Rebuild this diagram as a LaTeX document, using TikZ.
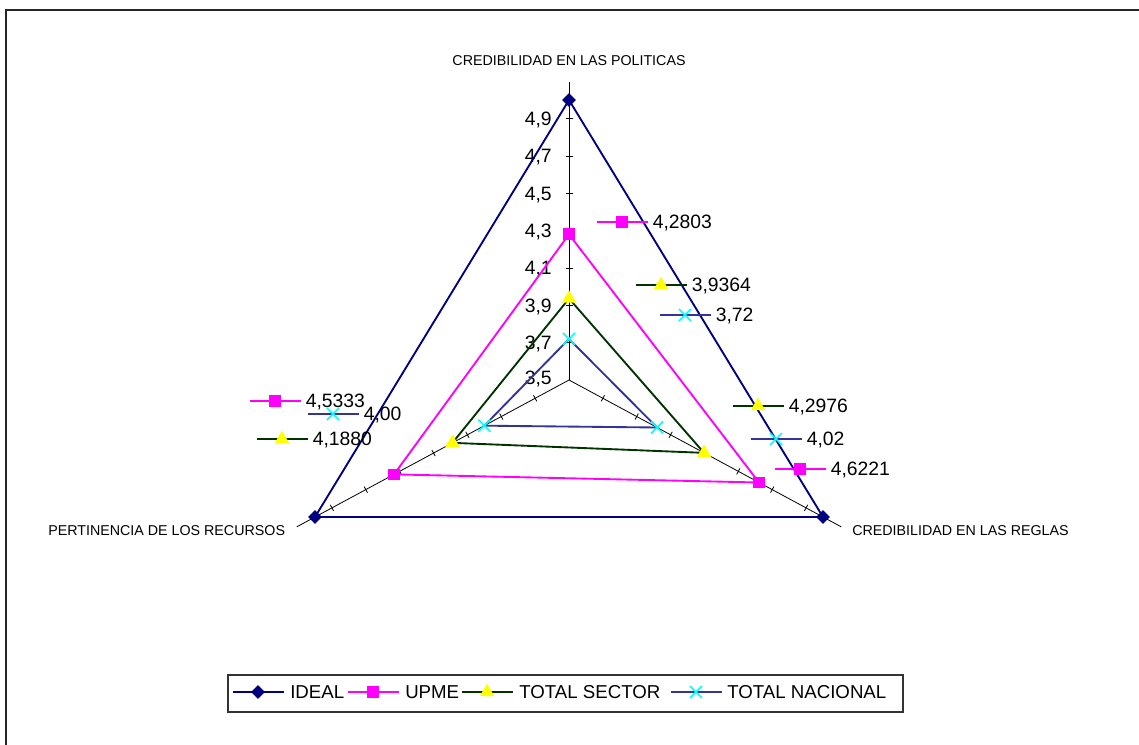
\documentclass[tikz,border=0pt]{standalone}
\usepackage{fontspec}
\setmainfont{Liberation Sans}
\usetikzlibrary{calc,shapes.geometric,shapes.misc}
\definecolor{ideal}{RGB}{0,0,128}
\definecolor{upme}{RGB}{255,0,255}
\definecolor{sector}{RGB}{0,51,0}
\definecolor{nacional}{RGB}{51,51,153}
\definecolor{ymark}{RGB}{255,255,0}
\definecolor{cmark}{RGB}{0,255,255}
\newcommand{\keylab}[6]{%
  \coordinate (#1k) at (#2,#3);
  \draw[serline,draw=#4] ($(#1k)+(-25.5,0)$) -- ($(#1k)+(25.5,0)$);
  \node[#5] (#1m) at (#1k) {};
  \node[val] (#1) at ($(#1k)+(30.5,6.8)$) {#6};
}
\begin{document}
\begin{tikzpicture}[x=0.75pt,y=-0.75pt,
  axisline/.style={draw=black,line width=0.6pt},
  tickmark/.style={draw=black,line width=0.6pt},
  serline/.style={line width=1.4pt},
  mdia/.style={diamond,fill=ideal,inner sep=0pt,minimum width=10.5pt,minimum height=10.5pt},
  msq/.style={rectangle,fill=upme,inner sep=0pt,minimum size=8.8pt},
  mtri/.style={regular polygon,regular polygon sides=3,fill=ymark,inner sep=0pt,minimum size=12.5pt},
  mx/.style={cross out,draw=cmark,line width=1.2pt,inner sep=0pt,minimum size=7.8pt},
  val/.style={font=\fontsize{14.5}{17}\selectfont,anchor=base west,inner sep=0pt},
  ticklab/.style={font=\fontsize{14.5}{17}\selectfont,anchor=base east,inner sep=0pt},
  axtitle/.style={font=\fontsize{10.7}{13}\selectfont,inner sep=0pt},
  legtext/.style={font=\fontsize{14}{17}\selectfont,anchor=base west,inner sep=0pt},
]
\useasboundingbox (0,0) rectangle (1139,744);
\clip (0,0) rectangle (1139,744);
\fill[white] (0,0) rectangle (1139,744);
% frame
\draw[line width=1.5pt,black!85] (5.5,760) -- (5.5,9.5) -- (1160,9.5);

% axes
\coordinate (O) at (569,380);
\coordinate (T) at (569,100);
\coordinate (R) at (823,517);
\coordinate (L) at (315,517);
\draw[axisline] (O) -- ($(O)!1.064!(T)$);
\draw[axisline] (O) -- ($(O)!1.072!(R)$);
\draw[axisline] (O) -- ($(O)!1.072!(L)$);
\foreach \k in {1,...,7}{
  \coordinate (tT\k) at ($(O)!\k*0.2/1.5!(T)$);
  \coordinate (tR\k) at ($(O)!\k*0.2/1.5!(R)$);
  \coordinate (tL\k) at ($(O)!\k*0.2/1.5!(L)$);
  \draw[tickmark] ($(tT\k)+(-3.5,0)$) -- ($(tT\k)+(3.5,0)$);
  \draw[tickmark] ($(tR\k)!2.6pt!90:(R)$) -- ($(tR\k)!2.6pt!-90:(R)$);
  \draw[tickmark] ($(tL\k)!2.6pt!90:(L)$) -- ($(tL\k)!2.6pt!-90:(L)$);
}
% tick labels
\node[ticklab] (l35) at (552,384.8) {3,5};
\node[ticklab] (l37) at (552,349.5) {3,7};
\node[ticklab] (l39) at (552,312.1) {3,9};
\node[ticklab] (l41) at (552,274.8) {4,1};
\node[ticklab] (l43) at (552,237.5) {4,3};
\node[ticklab] (l45) at (552,200.1) {4,5};
\node[ticklab] (l47) at (552,162.8) {4,7};
\node[ticklab] (l49) at (552,125.5) {4,9};

% axis titles
\node[axtitle,anchor=base] (atop) at (569,65) {CREDIBILIDAD EN LAS POLITICAS};
\node[axtitle,anchor=base west] (aright) at (852,535) {CREDIBILIDAD EN LAS REGLAS};
\node[axtitle,anchor=base west] (aleft) at (48,535) {PERTINENCIA DE LOS RECURSOS};

% series points
\coordinate (iT) at (T);
\coordinate (iR) at (R);
\coordinate (iL) at (L);
\coordinate (uT) at ($(O)!0.52020!(T)$);
\coordinate (uR) at ($(O)!0.74807!(R)$);
\coordinate (uL) at ($(O)!0.68887!(L)$);
\coordinate (sT) at ($(O)!0.29093!(T)$);
\coordinate (sR) at ($(O)!0.53173!(R)$);
\coordinate (sL) at ($(O)!0.45867!(L)$);
\coordinate (nT) at ($(O)!0.14667!(T)$);
\coordinate (nR) at ($(O)!0.34667!(R)$);
\coordinate (nL) at ($(O)!0.33333!(L)$);

\draw[serline,draw=ideal] (iT) -- (iR) -- (iL) -- cycle;
\draw[serline,draw=upme] (uT) -- (uR) -- (uL) -- cycle;
\draw[serline,draw=sector] (sT) -- (sR) -- (sL) -- cycle;
\draw[serline,draw=nacional] (nT) -- (nR) -- (nL) -- cycle;

\foreach \p in {iT,iR,iL}{\node[mdia] (m\p) at (\p) {};}
\foreach \p in {uT,uR,uL}{\node[msq] (m\p) at (\p) {};}
\foreach \p in {sT,sR,sL}{\node[mtri] (m\p) at (\p) {};}
\foreach \p in {nT,nR,nL}{\node[mx] (m\p) at (\p) {};}

% data labels with legend keys
\keylab{duT}{622}{222}{upme}{msq}{4,2803}
\keylab{dsT}{661}{285}{sector}{mtri}{3,9364}
\keylab{dnT}{685}{315}{nacional}{mx}{3,72}
\keylab{dsR}{758}{406}{sector}{mtri}{4,2976}
\keylab{dnR}{776}{439}{nacional}{mx}{4,02}
\keylab{duR}{800}{469}{upme}{msq}{4,6221}
\keylab{duL}{275}{401}{upme}{msq}{4,5333}
\keylab{dnL}{333}{414}{nacional}{mx}{4,00}
\keylab{dsL}{282}{439}{sector}{mtri}{4,1880}

% legend
\draw[line width=0.8pt,black!80] (228,675) rectangle (903,712);
\coordinate (lgi) at (258,692);
\draw[serline,draw=ideal] ($(lgi)+(-25.5,0)$) -- ($(lgi)+(25.5,0)$);
\node[mdia] (lgim) at (lgi) {};
\node[legtext] (lgit) at (290,698.6) {IDEAL};
\coordinate (lgu) at (373,692);
\draw[serline,draw=upme] ($(lgu)+(-25.5,0)$) -- ($(lgu)+(25.5,0)$);
\node[msq] (lgum) at (lgu) {};
\node[legtext] (lgut) at (405,698.6) {UPME};
\coordinate (lgs) at (487,692);
\draw[serline,draw=sector] ($(lgs)+(-25.5,0)$) -- ($(lgs)+(25.5,0)$);
\node[mtri] (lgsm) at (lgs) {};
\node[legtext] (lgst) at (519,698.6) {TOTAL SECTOR};
\coordinate (lgn) at (696,692);
\draw[serline,draw=nacional] ($(lgn)+(-25.5,0)$) -- ($(lgn)+(25.5,0)$);
\node[mx] (lgnm) at (lgn) {};
\node[legtext] (lgnt) at (727,698.6) {TOTAL NACIONAL};
\end{tikzpicture}
\end{document}
